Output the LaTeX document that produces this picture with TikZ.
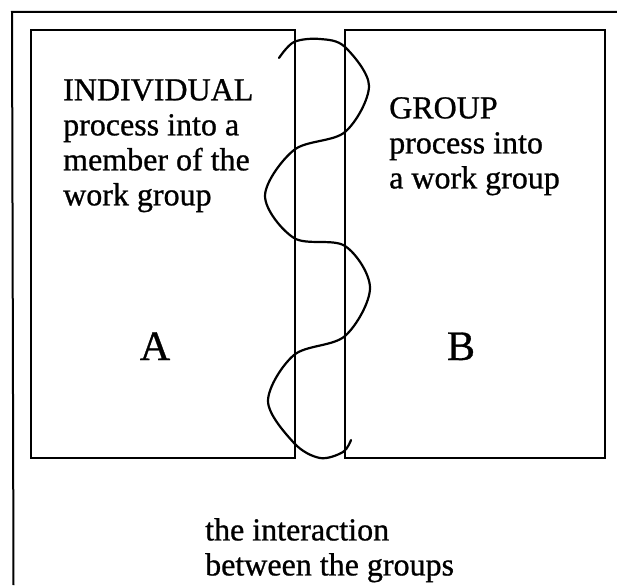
\documentclass[tikz,border=0pt]{standalone}
\usepackage{fontspec}
\setmainfont{Liberation Serif}[FakeBold=0.8]
\usetikzlibrary{positioning}
\tikzset{
  panel/.style={draw=black,line width=1.4pt,minimum width=264pt,minimum height=428pt,inner sep=0pt,outer sep=0pt},
  blurb/.style={align=left,anchor=north west,inner sep=0pt,font=\fontsize{32}{35}\selectfont},
  tag/.style={anchor=base,inner sep=0pt,font=\fontsize{42}{42}\selectfont},
  border/.style={line width=2pt},
  helix/.style={line width=2.2pt,line cap=round,line join=round}
}

\begin{document}
\begin{tikzpicture}[x=1pt,y=-1pt]
  \useasboundingbox (0,0) rectangle (617,585);
  % outer frame, open on the right and at the bottom
  \draw[border] (617,12) -- (12,12) -- (13.5,585);
  \node[panel] (boxA) at (163,244) {};
  \node[panel,minimum width=260pt,right=50pt of boxA] (boxB) {};
  \node[blurb] (indiv) at (63,79) {INDIVIDUAL\\process into a\\member of the\\work group};
  \node[blurb] (grp) at (389,97) {GROUP\\process into\\a work group};
  \node[tag] (labA) at (155,360) {A};
  \node[tag] (labB) at (461,360) {B};
  % the wave running through both panels
  \draw[helix] plot[smooth,tension=0.55] coordinates {(279,58) (294,42) (320,39) (345,47) (369,86) (345,132) (294,150) (265,196) (294,238) (345,246) (370,288) (345,336) (294,355) (268,401) (294,443) (320,458) (343,452) (351,440)};
  \node[blurb] (inter) at (205,518) {the interaction\\between the groups};
\end{tikzpicture}
\end{document}
